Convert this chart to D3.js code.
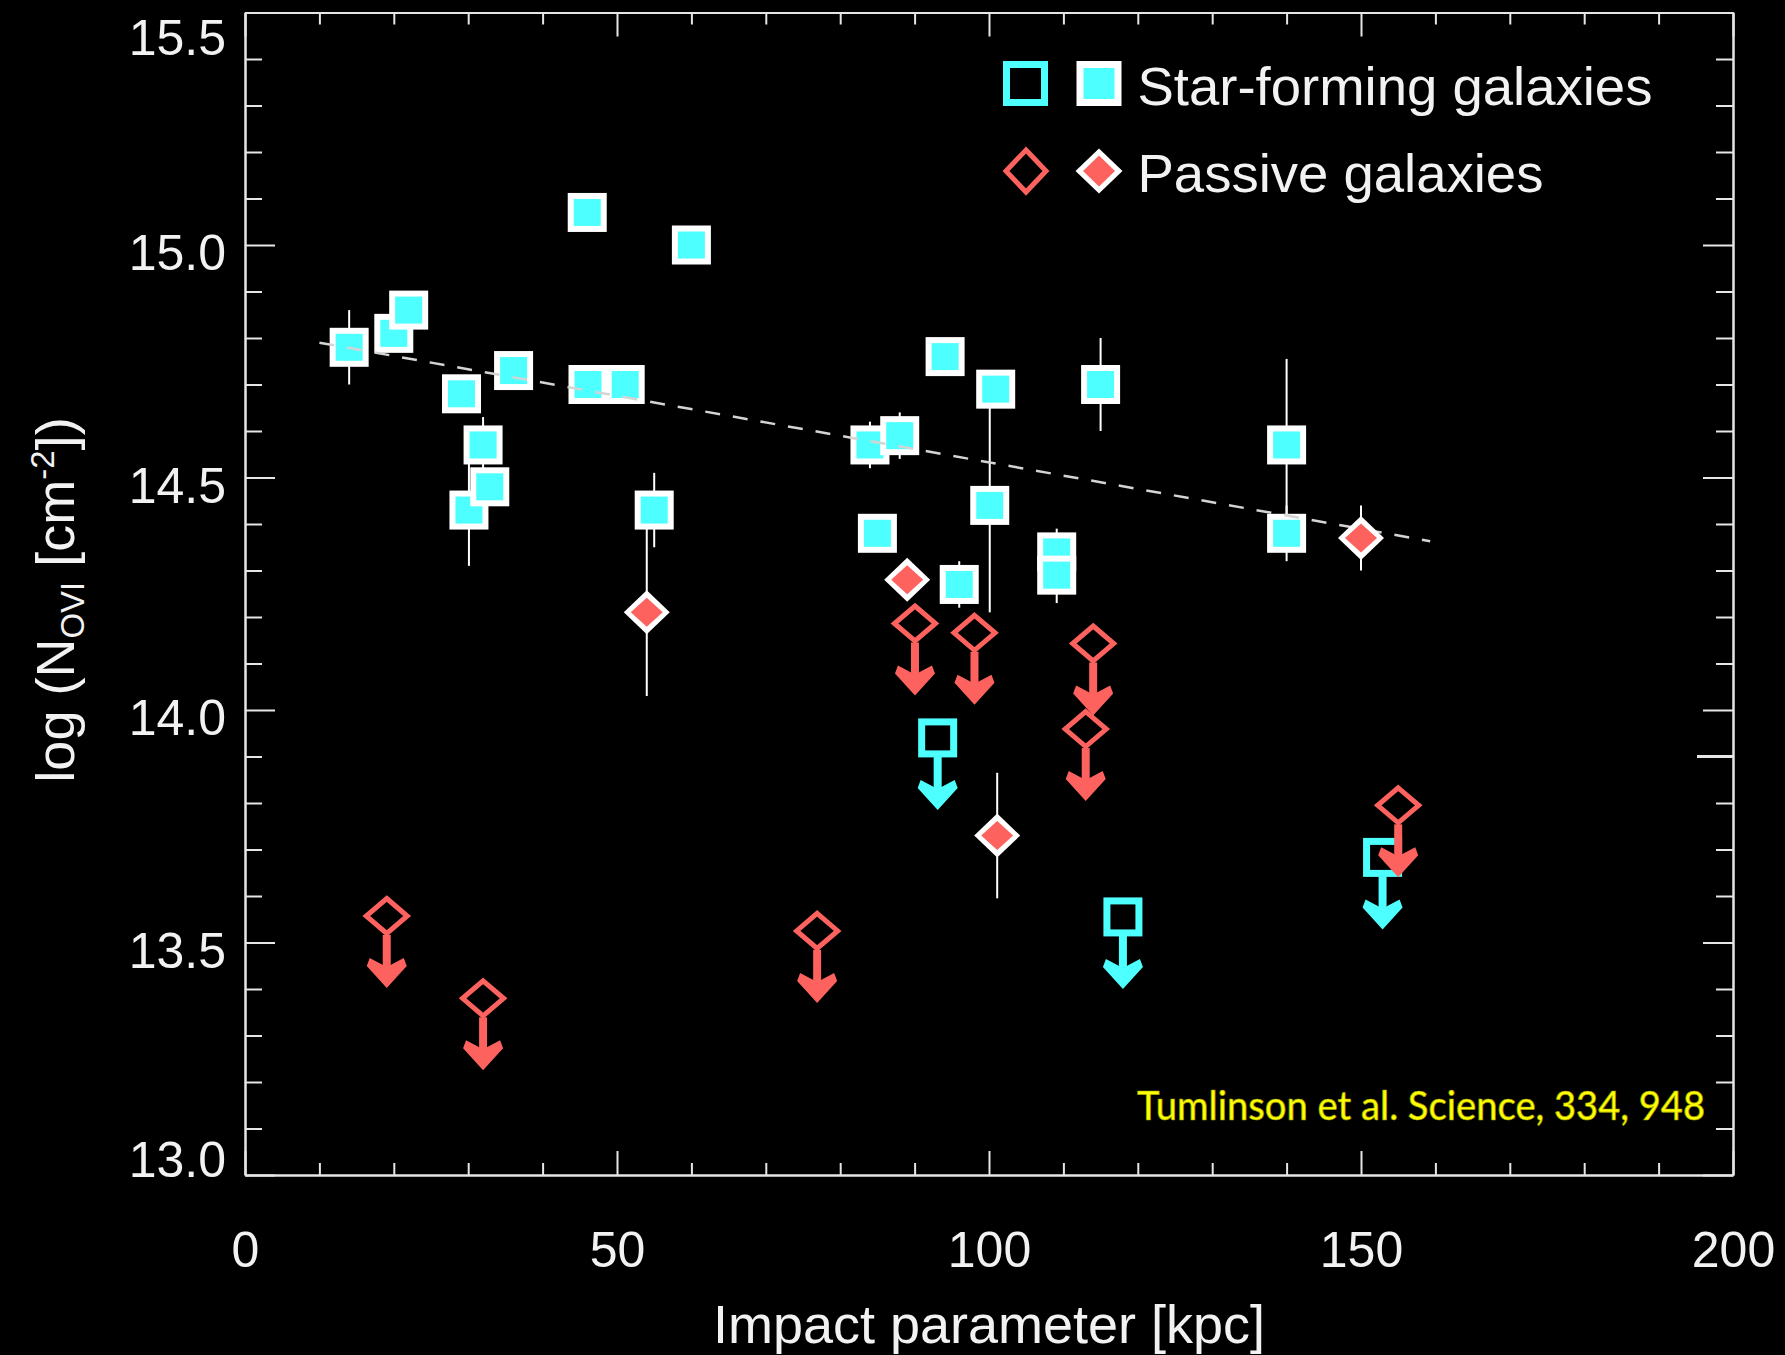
<!DOCTYPE html>
<html><head><meta charset="utf-8">
<script src="https://cdn.jsdelivr.net/npm/d3@7"></script>
<style>html,body{margin:0;padding:0;background:#000;} svg{display:block;}</style>
</head><body>
<svg id="chart" width="1785" height="1355"></svg>
<script>
// ---------------- data ----------------
// Star-forming galaxies, detections (impact parameter kpc, log N_OVI, error)
const sfX   = [14.0, 20.0, 22.0, 29.1, 30.1, 32.0, 32.9, 36.1, 46.0, 46.1, 51.1, 55.0, 60.0, 84.0, 85.0, 88.0, 94.1, 96.0, 100.9, 100.1, 109.1, 109.1, 115.0, 140.0, 140.0];
const sfY   = [14.78, 14.81, 14.86, 14.68, 14.43, 14.57, 14.48, 14.73, 15.07, 14.70, 14.70, 14.43, 15.00, 14.57, 14.38, 14.59, 14.76, 14.27, 14.69, 14.44, 14.34, 14.29, 14.70, 14.57, 14.38];
const sfErr = [0.08, 0, 0, 0, 0.12, 0.06, 0, 0, 0, 0, 0, 0.08, 0, 0.05, 0, 0.05, 0, 0.05, 0.04, 0.23, 0.05, 0.06, 0.10, 0.185, 0.06];
// Star-forming galaxies, upper limits
const sfLimX = [93.1, 118.0, 152.9];
const sfLimY = [13.94, 13.555, 13.683];
// Passive galaxies, detections
const pX   = [54.0, 89.0, 101.1, 150.0];
const pY   = [14.21, 14.28, 13.73, 14.37];
const pErr = [0.18, 0, 0.135, 0.07];
// Passive galaxies, upper limits
const pLimX = [19.05, 32.0, 76.9, 90.05, 98.05, 113.0, 114.0, 155.0];
const pLimY = [13.557, 13.38, 13.525, 14.186, 14.166, 13.959, 14.143, 13.795];
// dashed fit line
const fitX = [10, 159.3];
const fitY = [14.79, 14.363];
// ticks
const xMajorTicks = [0, 50, 100, 150, 200];
const xTickLabels = ["0", "50", "100", "150", "200"];
const xMinorTicks = [10, 20, 30, 40, 60, 70, 80, 90, 110, 120, 130, 140, 160, 170, 180, 190];
const yMajorTicks = [13.0, 13.5, 14.0, 14.5, 15.0, 15.5];
const yTickLabels = ["13.0", "13.5", "14.0", "14.5", "15.0", "15.5"];
const yMinorTicks = [13.1, 13.2, 13.3, 13.4, 13.6, 13.7, 13.8, 13.9, 14.1, 14.2, 14.3, 14.4, 14.6, 14.7, 14.8, 14.9, 15.1, 15.2, 15.3, 15.4];
const rightExtraTicks = [13.9];
const legendLabels = ["Star-forming galaxies", "Passive galaxies"];
const creditText = "Tumlinson et al. Science, 334, 948";

// ---------------- styles ----------------
const CYAN = "#4dffff", RED = "#fd625e", WHITE = "#ffffff", AXIS = "#e6e6e6", TXT = "#f2f2f2";
const FONT = "'Liberation Sans', Arial, Helvetica, sans-serif";

const svg = d3.select("#chart");
svg.append("rect").attr("width", 1785).attr("height", 1355).attr("fill", "#000");

const x = d3.scaleLinear().domain([0, 200]).range([245, 1733]);
const y = d3.scaleLinear().domain([13, 15.5]).range([1175, 12.5]);

function styleAxis(g) {
  g.selectAll("path,line").attr("stroke", AXIS).attr("stroke-width", 2);
  g.selectAll("text").attr("fill", TXT).style("font-family", FONT).style("font-size", "50px");
}

// bottom
svg.append("g").attr("transform", `translate(0,${y(13)})`)
  .call(d3.axisBottom(x).tickValues(xMajorTicks).tickFormat((d, i) => xTickLabels[i])
    .tickSizeInner(-24).tickSizeOuter(0).tickPadding(56)).call(styleAxis);
svg.append("g").attr("transform", `translate(0,${y(13)})`)
  .call(d3.axisBottom(x).tickValues(xMinorTicks).tickFormat("").tickSizeInner(-12).tickSizeOuter(0)).call(styleAxis);
// top
svg.append("g").attr("transform", `translate(0,${y(15.5)})`)
  .call(d3.axisTop(x).tickValues(xMajorTicks).tickFormat("").tickSizeInner(-24).tickSizeOuter(0)).call(styleAxis);
svg.append("g").attr("transform", `translate(0,${y(15.5)})`)
  .call(d3.axisTop(x).tickValues(xMinorTicks).tickFormat("").tickSizeInner(-12).tickSizeOuter(0)).call(styleAxis);
// left
const gl = svg.append("g").attr("transform", `translate(${x(0)},0)`)
  .call(d3.axisLeft(y).tickValues(yMajorTicks).tickFormat((d, i) => yTickLabels[i])
    .tickSizeInner(-30).tickSizeOuter(0).tickPadding(19)).call(styleAxis);
gl.selectAll("text").attr("dy", d => d === 13 ? "1px" : (d === 15.5 ? "42px" : "24.5px"));
svg.append("g").attr("transform", `translate(${x(0)},0)`)
  .call(d3.axisLeft(y).tickValues(yMinorTicks).tickFormat("").tickSizeInner(-17).tickSizeOuter(0)).call(styleAxis);
// right
svg.append("g").attr("transform", `translate(${x(200)},0)`)
  .call(d3.axisRight(y).tickValues(yMajorTicks).tickFormat("").tickSizeInner(-30).tickSizeOuter(0)).call(styleAxis);
svg.append("g").attr("transform", `translate(${x(200)},0)`)
  .call(d3.axisRight(y).tickValues(yMinorTicks).tickFormat("").tickSizeInner(-17).tickSizeOuter(0)).call(styleAxis);
svg.append("g").selectAll("line").data(rightExtraTicks).join("line")
  .attr("x1", x(200)).attr("x2", x(200) - 36).attr("y1", d => y(d)).attr("y2", d => y(d))
  .attr("stroke", AXIS).attr("stroke-width", 3);

// ---------------- marks ----------------
const sf = sfX.map((v, i) => ({ x: v, y: sfY[i], e: sfErr[i] }));
const sfLim = sfLimX.map((v, i) => ({ x: v, y: sfLimY[i] }));
const pd = pX.map((v, i) => ({ x: v, y: pY[i], e: pErr[i] }));
const pLim = pLimX.map((v, i) => ({ x: v, y: pLimY[i] }));

const marks = svg.append("g");
// error bars (behind markers)
marks.append("g").selectAll("line").data(sf.filter(d => d.e > 0)).join("line")
  .attr("x1", d => x(d.x)).attr("x2", d => x(d.x)).attr("y1", d => y(d.y - d.e)).attr("y2", d => y(d.y + d.e))
  .attr("stroke", WHITE).attr("stroke-width", 2);
marks.append("g").selectAll("line").data(pd.filter(d => d.e > 0)).join("line")
  .attr("x1", d => x(d.x)).attr("x2", d => x(d.x)).attr("y1", d => y(d.y - d.e)).attr("y2", d => y(d.y + d.e))
  .attr("stroke", WHITE).attr("stroke-width", 2);

// filled squares
const sq = marks.append("g").selectAll("g").data(sf).join("g")
  .attr("transform", d => `translate(${x(d.x)},${y(d.y)})`);
sq.append("rect").attr("x", -19.5).attr("y", -19.5).attr("width", 39).attr("height", 39).attr("fill", WHITE);
sq.append("rect").attr("x", -13.5).attr("y", -13.5).attr("width", 27).attr("height", 27).attr("fill", CYAN);

// dashed fit line
marks.append("path").datum(fitX.map((v, i) => [v, fitY[i]]))
  .attr("d", d3.line().x(d => x(d[0])).y(d => y(d[1])))
  .attr("fill", "none").attr("stroke", "#d4d4d4").attr("stroke-width", 2.5).attr("stroke-dasharray", "15,13");

const ARROW_LEN = 72;
function arrowHead(g, color) {
  g.append("path")
    .attr("d", `M0,${ARROW_LEN} L-20,${ARROW_LEN - 22} L-17,${ARROW_LEN - 30} L0,${ARROW_LEN - 21} L17,${ARROW_LEN - 30} L20,${ARROW_LEN - 22} Z`)
    .attr("fill", color);
}

// open squares with arrows (upper limits)
const osq = marks.append("g").selectAll("g").data(sfLim).join("g")
  .attr("transform", d => `translate(${x(d.x)},${y(d.y)})`);
osq.append("line").attr("x1", 0).attr("x2", 0).attr("y1", 19).attr("y2", ARROW_LEN - 14)
  .attr("stroke", CYAN).attr("stroke-width", 8);
osq.each(function () { arrowHead(d3.select(this), CYAN); });
osq.append("rect").attr("x", -16).attr("y", -16).attr("width", 32).attr("height", 32)
  .attr("fill", "none").attr("stroke", CYAN).attr("stroke-width", 7);

// open diamonds with arrows
const odm = marks.append("g").selectAll("g").data(pLim).join("g")
  .attr("transform", d => `translate(${x(d.x)},${y(d.y)})`);
odm.append("line").attr("x1", 0).attr("x2", 0).attr("y1", 19).attr("y2", ARROW_LEN - 14)
  .attr("stroke", RED).attr("stroke-width", 8);
odm.each(function () { arrowHead(d3.select(this), RED); });
odm.append("path").attr("d", "M0,-17.5 L20.5,0 L0,17.5 L-20.5,0 Z")
  .attr("fill", "none").attr("stroke", RED).attr("stroke-width", 5).attr("stroke-linejoin", "miter");

// filled diamonds
const fdm = marks.append("g").selectAll("g").data(pd).join("g")
  .attr("transform", d => `translate(${x(d.x)},${y(d.y)})`);
fdm.append("path").attr("d", "M0,-22 L23,0 L0,22 L-23,0 Z").attr("fill", WHITE);
fdm.append("path").attr("d", "M0,-14.5 L16,0 L0,14.5 L-16,0 Z").attr("fill", RED);

// ---------------- legend ----------------
const lg = svg.append("g");
lg.append("rect").attr("x", 1025.5 - 19).attr("y", 83.5 - 19).attr("width", 38).attr("height", 38)
  .attr("fill", "none").attr("stroke", CYAN).attr("stroke-width", 7);
lg.append("rect").attr("x", 1099 - 22.5).attr("y", 83.5 - 22.5).attr("width", 45).attr("height", 45).attr("fill", WHITE);
lg.append("rect").attr("x", 1099 - 15.5).attr("y", 83.5 - 15.5).attr("width", 31).attr("height", 31).attr("fill", CYAN);
lg.append("path").attr("d", "M1026,150 L1046,171 L1026,192 L1006,171 Z")
  .attr("fill", "none").attr("stroke", RED).attr("stroke-width", 5);
lg.append("path").attr("d", "M1099,148.5 L1122.5,171 L1099,193.5 L1075.5,171 Z").attr("fill", WHITE);
lg.append("path").attr("d", "M1099,155.5 L1115,171 L1099,186.5 L1083,171 Z").attr("fill", RED);
lg.selectAll("text").data(legendLabels).join("text")
  .attr("x", 1137.5).attr("y", (d, i) => i === 0 ? 105 : 191.5)
  .attr("fill", TXT).style("font-family", FONT).style("font-size", "54.5px").text(d => d);

// ---------------- credit ----------------
svg.append("text").attr("x", 1137).attr("y", 1120)
  .attr("textLength", 568).attr("lengthAdjust", "spacingAndGlyphs")
  .attr("fill", "#ffff00").attr("stroke", "#9a9a00").attr("stroke-width", 0.7)
  .style("font-family", "Lato, 'Open Sans', sans-serif").style("font-size", "40px").style("font-weight", "500")
  .text(creditText);

// ---------------- axis titles ----------------
svg.append("text").attr("x", 989).attr("y", 1343).attr("text-anchor", "middle")
  .attr("fill", TXT).style("font-family", FONT).style("font-size", "54px")
  .text("Impact parameter [kpc]");

const yt = svg.append("text").attr("transform", "translate(74,600) rotate(-90)").attr("text-anchor", "middle")
  .attr("fill", TXT).style("font-family", FONT).style("font-size", "54px");
yt.append("tspan").text("log (N");
yt.append("tspan").attr("dy", "10").style("font-size", "33px").text("OVI");
yt.append("tspan").attr("dy", "-10").text(" [cm");
yt.append("tspan").attr("dy", "-20").style("font-size", "33px").text("-2");
yt.append("tspan").attr("dy", "20").text("])");
</script>
</body></html>
